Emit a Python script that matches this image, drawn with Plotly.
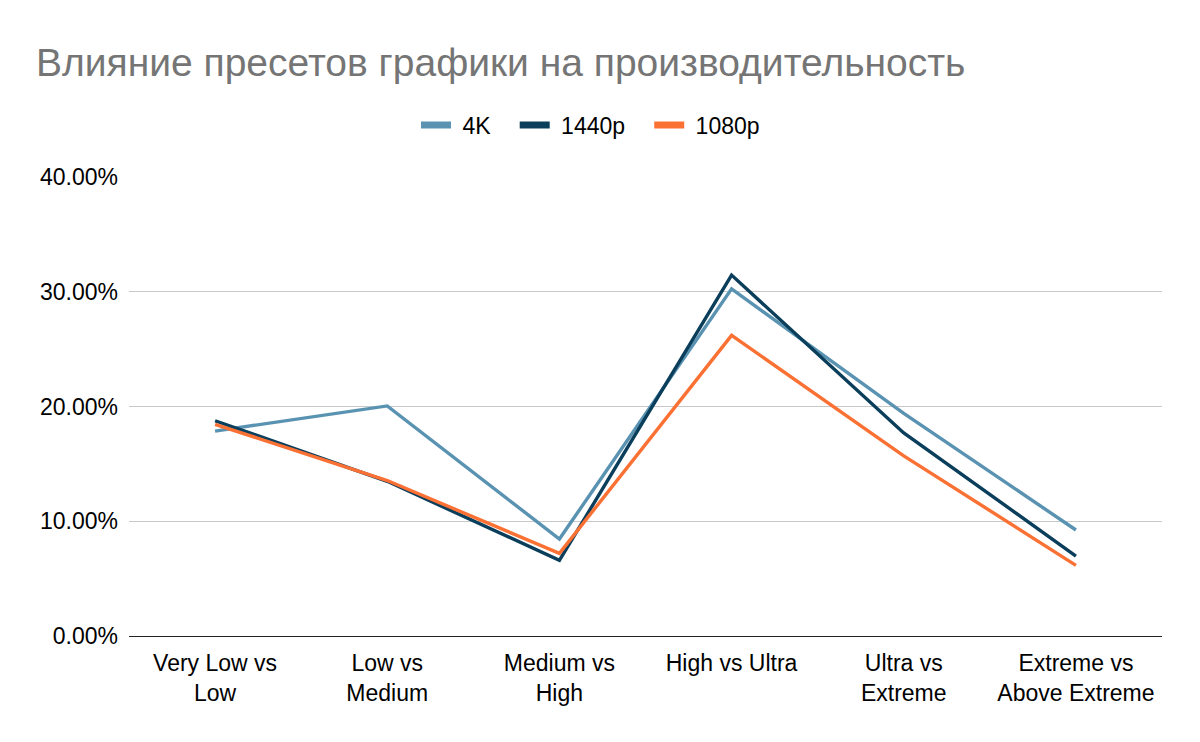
import plotly.graph_objects as go

categories = ["Very Low vs<br>Low", "Low vs<br>Medium", "Medium vs<br>High", "High vs Ultra",
              "Ultra vs<br>Extreme", "Extreme vs<br>Above Extreme"]
series_names = ["4K", "1440p", "1080p"]
vals_4k = [0.1786, 0.2005, 0.0845, 0.3025, 0.1940, 0.0924]
vals_1440 = [0.1876, 0.1348, 0.0660, 0.3145, 0.1770, 0.0697]
vals_1080 = [0.1845, 0.1355, 0.0720, 0.2620, 0.1570, 0.0616]
y_ticks = [0, 0.1, 0.2, 0.3, 0.4]
colors = ["#5A93B2", "#0A3E5B", "#FB7134"]

NB = "\u00a0"
fig = go.Figure()
for name, vals, c in zip(series_names, [vals_4k, vals_1440, vals_1080], colors):
    fig.add_trace(go.Scatter(x=categories, y=vals, name=name, mode="lines",
                             line=dict(color=c, width=3.4), showlegend=False,
                             legendgroup=name))
# legend entries with thick swatches
for name, c in zip(series_names, colors):
    fig.add_trace(go.Scatter(x=[None], y=[None], name=NB + name + NB * 3, mode="lines",
                             line=dict(color=c, width=7), showlegend=True,
                             legendgroup=name))

fig.update_layout(
    width=1200, height=742,
    paper_bgcolor="white", plot_bgcolor="white",
    font=dict(family="Liberation Sans, Arial, sans-serif", color="#000000", size=23),
    margin=dict(l=129, r=38, t=177, b=106, autoexpand=False),
    title=dict(text="Влияние пресетов графики на производительность",
               font=dict(size=39, color="#757575"),
               xref="container", x=36/1200, xanchor="left",
               yref="container", y=1-62/742, yanchor="middle"),
    legend=dict(orientation="h", xref="container", x=0.5, xanchor="center",
                yref="container", y=1-125/742, yanchor="middle",
                font=dict(size=23), itemwidth=30, traceorder="normal"),
    showlegend=True,
)
fig.update_xaxes(showgrid=False, showline=False, ticks="", tickfont=dict(size=23),
                 zeroline=False, automargin=False, range=[-0.5, 5.5],
                 ticklabelstandoff=11)
fig.update_yaxes(range=[0, 0.4], tickvals=y_ticks, tickformat=".2%",
                 showgrid=True, gridcolor="#C8C8C8", gridwidth=1.3,
                 zeroline=True, zerolinecolor="#222222", zerolinewidth=1.3,
                 showline=False, ticks="", ticklabelstandoff=10, tickfont=dict(size=23),
                 automargin=False)

fig.write_html("out.html", config={"displayModeBar": False},
               post_script="document.body.style.margin='0';document.body.style.padding='0';")
